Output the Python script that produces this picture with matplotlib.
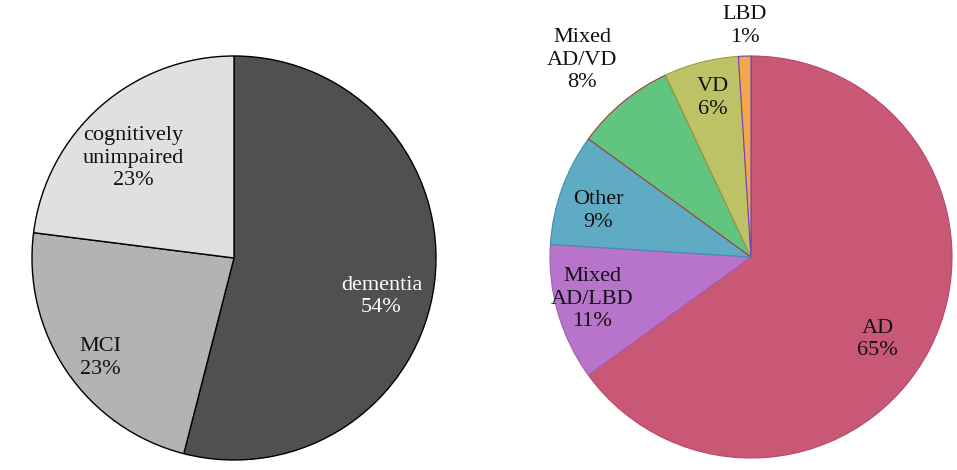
import matplotlib.pyplot as plt

# left pie: cognitive status
status_labels = ["dementia", "MCI", "cognitively\nunimpaired"]
status_values = [54, 23, 23]
status_colors = ["#505050", "#b3b3b3", "#e0e0e0"]

# right pie: dementia diagnosis
diag_labels = ["AD", "Mixed\nAD/LBD", "Other", "Mixed\nAD/VD", "VD", "LBD"]
diag_values = [65, 11, 9, 8, 6, 1]
diag_colors = ["#c95877", "#b873cb", "#60abc4", "#62c57f", "#bcc265", "#f3a64a"]
diag_edges = ["#b8466a", "#a05fb5", "#3f8fb5", "#a83a3a", "#9aa040", "#7040c0"]

W, H = 957, 470
plt.rcParams["font.family"] = ["Liberation Serif", "DejaVu Serif"]

fig = plt.figure(figsize=(W / 100, H / 100), dpi=100)


def add_pie_axes(cx, cy, r):
    # cx, cy in pixels from top-left
    return fig.add_axes([(cx - r) / W, (H - cy - r) / H, 2 * r / W, 2 * r / H])


# ---- left pie
ax1 = add_pie_axes(234, 258, 202)
ax1.pie(status_values, colors=status_colors, startangle=90, counterclock=False,
        radius=1, wedgeprops=dict(edgecolor="black", linewidth=1.0))
status_pos = [(0.73, -0.19), (-0.66, -0.495), (-0.50, 0.495)]
status_text_colors = ["white", "#111111", "#111111"]
for lab, v, (x, y), c in zip(status_labels, status_values, status_pos, status_text_colors):
    ax1.text(x, y, f"{lab}\n{v}%", ha="center", va="center", fontsize=16,
             color=c, linespacing=1.25)
ax1.set_xlim(-1, 1)
ax1.set_ylim(-1, 1)
ax1.set_aspect("equal")
ax1.axis("off")

# ---- right pie
ax2 = add_pie_axes(751, 257, 201)
wedges, _ = ax2.pie(diag_values, colors=diag_colors, startangle=90,
                    counterclock=False, radius=1,
                    wedgeprops=dict(linewidth=0.8))
for w, ec in zip(wedges, diag_edges):
    w.set_edgecolor(ec)
diag_pos = [(0.63, -0.41), (-0.79, -0.21), (-0.76, 0.23),
            (-0.84, 0.98), (-0.19, 0.79), (-0.03, 1.15)]
for lab, v, (x, y) in zip(diag_labels, diag_values, diag_pos):
    ax2.text(x, y, f"{lab}\n{v}%", ha="center", va="center", fontsize=16,
             color="#111111", linespacing=1.25, clip_on=False)
ax2.set_xlim(-1, 1)
ax2.set_ylim(-1, 1)
ax2.set_aspect("equal")
ax2.axis("off")

fig.savefig("out.png", dpi=100, facecolor="white")
